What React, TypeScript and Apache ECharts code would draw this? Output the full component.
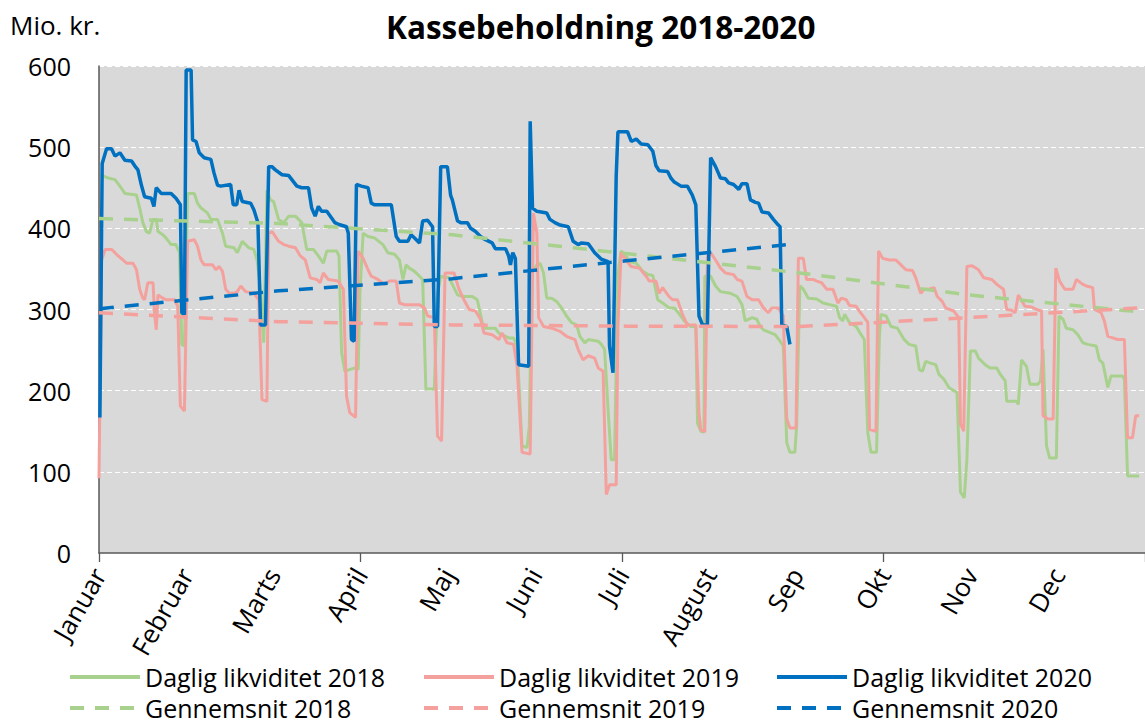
import React, { useEffect, useRef } from "react";
import * as echarts from "echarts";

// x values: day index (30 per month label), y values: Mio. kr.
const months = ["Januar", "Februar", "Marts", "April", "Maj", "Juni", "Juli", "August", "Sep", "Okt", "Nov", "Dec"];
const yTicks = [0, 100, 200, 300, 400, 500, 600];

const daily2018: number[][] = [
  [0.6, 466], [3.2, 462], [5.5, 460], [7.2, 452], [8.9, 443], [12.9, 441], [14.0, 425], [15.1, 407], [16.3, 396], [17.4, 394],
  [18.6, 411], [19.7, 411], [20.3, 396], [22.0, 392], [23.1, 388], [24.8, 380], [26.5, 380], [27.7, 370], [28.5, 257], [29.4, 255],
  [30.5, 443], [32.8, 443], [33.9, 431], [35.1, 425], [37.3, 419], [38.5, 411], [40.8, 411], [42.5, 394], [43.6, 378], [46.5, 376],
  [47.6, 370], [49.3, 384], [51.6, 376], [53.3, 374], [54.4, 361], [55.6, 325], [56.7, 259], [57.8, 447], [59.0, 435], [60.1, 433],
  [61.8, 411], [63.6, 407], [65.3, 415], [67.6, 415], [69.8, 407], [71.5, 374], [73.8, 374], [75.5, 366], [77.2, 357], [78.4, 372],
  [81.8, 372], [82.6, 366], [83.5, 247], [84.6, 224], [88.1, 228], [89.2, 226], [89.8, 320], [90.9, 394], [92.6, 390], [94.9, 388],
  [97.7, 380], [99.4, 370], [101.7, 368], [103.4, 361], [104.6, 337], [105.7, 355], [106.8, 351], [108.6, 347], [110.3, 341], [111.4, 337],
  [112.5, 202], [115.4, 202], [116.5, 320], [117.6, 341], [120.5, 339], [123.4, 318], [125.1, 316], [128.5, 316], [130.2, 312], [131.9, 284],
  [133.0, 277], [136.4, 277], [137.6, 271], [138.7, 269], [141.0, 265], [142.7, 265], [143.9, 255], [145.6, 132], [147.3, 130], [148.1, 156],
  [149.0, 345], [150.7, 355], [151.8, 357], [153.0, 345], [154.1, 314], [155.8, 314], [157.5, 310], [159.2, 302], [160.9, 292], [162.6, 284],
  [164.4, 281], [165.5, 267], [167.2, 259], [168.4, 263], [171.8, 261], [172.9, 257], [174.0, 251], [175.2, 177], [176.3, 115], [177.4, 115],
  [178.6, 345], [179.7, 372], [181.4, 366], [182.6, 359], [184.9, 357], [187.2, 347], [188.9, 343], [190.6, 342], [192.3, 312], [194.0, 308],
  [196.2, 302], [198.0, 302], [199.6, 295], [201.4, 286], [203.6, 279], [205.4, 279], [206.0, 160], [207.1, 150], [208.2, 149], [208.5, 341],
  [210.5, 341], [212.2, 329], [213.9, 322], [217.3, 320], [219.6, 316], [221.3, 306], [222.4, 286], [224.8, 290], [226.4, 288], [227.6, 279],
  [228.7, 275], [232.7, 269], [234.4, 261], [235.5, 255], [236.7, 136], [237.8, 124], [239.5, 124], [240.1, 157], [241.2, 329], [242.4, 325],
  [244.1, 314], [247.0, 313], [249.2, 308], [251.5, 306], [253.8, 304], [254.9, 290], [256.0, 286], [256.6, 294], [258.3, 284], [260.6, 279],
  [262.3, 269], [263.4, 263], [264.6, 148], [265.7, 124], [267.6, 124], [268.6, 267], [269.1, 294], [270.9, 292], [272.6, 279], [274.8, 277],
  [277.1, 263], [278.8, 257], [281.1, 255], [282.3, 226], [283.4, 224], [284.5, 236], [286.2, 234], [288.0, 232], [289.1, 220], [290.8, 214],
  [292.5, 204], [294.2, 200], [295.3, 198], [296.5, 75], [297.8, 68], [298.7, 115], [299.9, 249], [301.6, 249], [302.7, 240], [305.0, 232],
  [306.7, 228], [309.0, 228], [310.2, 220], [311.9, 212], [312.4, 187], [315.8, 187], [316.4, 183], [317.5, 238], [319.2, 230], [320.4, 208],
  [323.2, 208], [324.0, 212], [324.9, 251], [326.1, 132], [327.2, 117], [329.5, 117], [330.4, 292], [331.8, 288], [332.9, 277], [335.2, 275],
  [336.9, 269], [338.6, 259], [340.3, 257], [343.2, 255], [344.3, 238], [345.5, 234], [347.2, 204], [348.3, 218], [352.3, 218], [352.9, 214],
  [354.0, 95], [358.0, 95],
];

const daily2019: number[][] = [
  [0, 92], [0.9, 361], [2.1, 374], [4.3, 374], [5.5, 370], [6.6, 366], [8.3, 361], [9.5, 357], [11.7, 357], [12.9, 349],
  [14.0, 325], [15.1, 314], [15.7, 312], [16.8, 333], [18.6, 333], [19.1, 296], [19.7, 275], [20.3, 318], [22.0, 314], [23.1, 312],
  [26.0, 312], [27.1, 304], [28.0, 181], [29.4, 175], [30.5, 384], [32.8, 386], [33.9, 378], [35.1, 361], [36.2, 355], [39.1, 355],
  [40.2, 349], [41.3, 353], [42.5, 347], [43.6, 325], [44.8, 320], [46.5, 320], [47.6, 322], [48.8, 329], [50.5, 322], [53.3, 320],
  [55.0, 312], [56.1, 189], [57.8, 187], [58.4, 394], [59.6, 396], [61.8, 384], [63.6, 380], [65.3, 378], [67.6, 376], [69.3, 366],
  [71.0, 361], [72.7, 339], [74.9, 337], [76.1, 333], [77.2, 345], [78.9, 337], [82.3, 335], [84.1, 325], [85.2, 193], [86.3, 173],
  [88.3, 167], [89.2, 372], [90.9, 363], [92.6, 349], [93.7, 341], [96.0, 337], [98.3, 331], [100.0, 335], [102.3, 335], [103.4, 308],
  [105.1, 306], [110.3, 306], [112.0, 302], [113.1, 292], [115.4, 290], [116.5, 144], [117.9, 138], [119.1, 345], [122.2, 345], [123.9, 325],
  [125.6, 312], [127.4, 300], [129.6, 298], [131.3, 288], [132.5, 271], [135.3, 269], [137.6, 263], [138.7, 271], [140.4, 259], [142.7, 257],
  [143.9, 230], [145.6, 124], [148.4, 122], [149.5, 419], [150.7, 394], [151.3, 290], [153.0, 279], [155.8, 277], [158.7, 273], [160.9, 267],
  [163.8, 263], [164.9, 251], [166.6, 238], [168.4, 243], [170.6, 240], [171.8, 228], [173.5, 224], [174.6, 72], [175.7, 84], [178.0, 84],
  [178.6, 279], [179.7, 370], [181.4, 361], [183.1, 353], [186.0, 351], [188.3, 341], [189.4, 335], [191.7, 335], [192.8, 320], [194.0, 327],
  [196.2, 316], [197.4, 312], [199.1, 312], [200.8, 294], [202.5, 281], [205.4, 281], [206.5, 173], [207.1, 152], [208.5, 149], [209.4, 366],
  [210.5, 370], [212.2, 361], [213.9, 351], [215.6, 345], [218.4, 343], [219.6, 337], [221.3, 335], [223.0, 316], [224.8, 312], [227.0, 312],
  [228.7, 302], [230.4, 296], [231.6, 302], [233.8, 302], [235.5, 292], [236.7, 165], [237.8, 154], [239.9, 154], [240.7, 363], [242.4, 363],
  [243.5, 337], [245.8, 337], [247.0, 335], [248.7, 333], [250.4, 325], [252.6, 325], [254.3, 308], [255.5, 314], [257.2, 312], [258.3, 305],
  [260.6, 304], [261.7, 298], [263.4, 290], [264.6, 284], [265.2, 152], [267.4, 150], [268.3, 372], [269.7, 363], [272.0, 361], [274.3, 361],
  [276.0, 355], [277.7, 349], [280.0, 348], [281.1, 339], [282.8, 320], [284.0, 325], [285.6, 325], [287.4, 327], [288.5, 316], [290.2, 310],
  [291.4, 302], [294.2, 298], [295.9, 290], [296.5, 159], [297.6, 150], [298.7, 353], [300.5, 354], [302.7, 349], [304.5, 339], [307.3, 337],
  [309.0, 331], [311.3, 325], [312.4, 300], [314.2, 299], [315.3, 296], [316.4, 318], [318.7, 304], [321.0, 303], [322.7, 300], [324.4, 298],
  [324.9, 169], [326.6, 165], [328.4, 165], [329.3, 351], [330.6, 335], [332.4, 325], [335.2, 325], [336.4, 337], [338.6, 331], [339.8, 329],
  [342.0, 327], [342.6, 300], [344.9, 296], [346.0, 286], [347.2, 267], [348.9, 265], [350.6, 263], [352.9, 263], [354.0, 142], [355.7, 142],
  [356.8, 169], [358.0, 169],
];

const daily2020: number[][] = [
  [0.3, 167], [1.1, 480], [2.6, 498], [4.3, 498], [5.5, 489], [7.2, 493], [8.9, 484], [11.2, 483], [12.3, 477], [13.4, 472],
  [14.6, 453], [15.7, 439], [18.0, 437], [18.9, 427], [19.7, 450], [21.4, 443], [24.8, 443], [26.5, 437], [28.0, 429], [28.5, 296],
  [29.4, 294], [30.0, 595], [31.7, 595], [32.2, 509], [33.4, 507], [34.5, 493], [36.2, 487], [38.5, 485], [39.6, 468], [40.8, 453],
  [41.9, 452], [45.3, 454], [46.2, 429], [47.4, 429], [48.2, 447], [49.3, 433], [52.2, 431], [53.3, 423], [54.7, 407], [55.6, 281],
  [57.3, 281], [58.4, 476], [59.5, 476], [60.7, 472], [63.0, 466], [65.3, 465], [68.1, 452], [69.8, 450], [72.1, 450], [73.2, 425],
  [74.4, 415], [75.5, 427], [76.6, 421], [78.4, 421], [81.2, 407], [82.3, 405], [85.2, 402], [85.8, 394], [86.9, 263], [87.8, 261],
  [88.6, 454], [90.3, 452], [92.6, 450], [93.7, 431], [94.9, 429], [100.6, 429], [102.3, 390], [103.4, 384], [106.3, 384], [107.4, 392],
  [108.6, 388], [110.3, 382], [111.4, 409], [113.1, 410], [114.8, 402], [115.4, 279], [116.5, 279], [117.6, 476], [119.9, 476], [121.0, 441],
  [121.6, 435], [123.4, 409], [124.5, 407], [126.8, 407], [127.9, 400], [129.6, 396], [131.3, 390], [133.0, 386], [135.3, 382], [136.4, 375],
  [139.9, 375], [141.0, 366], [141.6, 355], [142.4, 370], [143.3, 363], [144.4, 232], [147.9, 230], [148.4, 532], [149.2, 425], [150.7, 421],
  [154.1, 419], [155.2, 411], [156.9, 407], [158.7, 404], [161.5, 402], [163.2, 384], [164.9, 380], [166.1, 382], [168.4, 381], [170.6, 370],
  [172.9, 362], [175.2, 359], [175.7, 255], [176.9, 222], [178.0, 464], [178.6, 519], [181.9, 519], [183.2, 507], [184.9, 510], [186.6, 504],
  [188.9, 503], [190.6, 495], [191.7, 477], [192.8, 471], [195.7, 470], [196.8, 462], [198.0, 457], [200.3, 452], [202.5, 452], [204.2, 441],
  [205.4, 429], [206.5, 292], [207.7, 281], [209.4, 281], [210.5, 487], [212.2, 476], [213.9, 462], [215.6, 461], [216.7, 456], [218.4, 454],
  [220.2, 448], [221.3, 455], [223.0, 455], [224.2, 435], [225.9, 432], [227.0, 431], [228.2, 420], [230.4, 419], [232.1, 411], [233.8, 404],
  [234.4, 402], [235.0, 281], [236.7, 279], [237.8, 257],
];

const avg2018: number[][] = [[0, 412], [61.8, 406], [121.6, 392], [181.4, 369], [241.2, 345], [299.3, 318], [358, 297]];
const avg2019: number[][] = [[0, 296], [61.8, 285], [121.6, 281], [181.4, 279.5], [241.2, 279], [299.3, 290], [358, 302]];
const avg2020: number[][] = [[0.3, 301], [61.8, 323], [121.6, 338], [181.4, 360], [238.5, 380.5]];

const seriesNames = [
  "Daglig likviditet 2018",
  "Daglig likviditet 2019",
  "Daglig likviditet 2020",
  "Gennemsnit 2018",
  "Gennemsnit 2019",
  "Gennemsnit 2020",
];

const GREEN = "#a9d18e";
const PINK = "#f4a19d";
const BLUE = "#0070c0";
const FONT = "'Open Sans', sans-serif";

export default function App() {
  const ref = useRef<HTMLDivElement>(null);

  useEffect(() => {
    if (!ref.current) return;
    const chart = echarts.init(ref.current, null, { renderer: "svg" });

    const dash = [14, 11];
    const mkLine = (name: string, data: number[][], color: string, width: number, dashed: boolean) => ({
      name,
      type: "line",
      data,
      symbol: "none",
      showSymbol: false,
      xAxisIndex: 0,
      yAxisIndex: 0,
      itemStyle: { color },
      lineStyle: { color, width, type: dashed ? dash : "solid" },
      emphasis: { disabled: true },
    });

    const legendBase = {
      padding: 0,
      itemGap: 0,
      itemWidth: 70,
      itemHeight: 14,
      selectedMode: false,
      itemStyle: { opacity: 0 },
      lineStyle: { width: 4, type: "inherit" },
      textStyle: { fontFamily: FONT, fontSize: 25, lineHeight: 26, color: "#000" },
    };
    const legendPos = [
      [68, 664],
      [422, 664],
      [775, 664],
      [68, 695],
      [422, 695],
      [775, 695],
    ];

    chart.setOption({
      animation: false,
      title: {
        text: "Kassebeholdning 2018-2020",
        left: 381,
        top: 5,
        textStyle: { fontFamily: FONT, fontSize: 31.5, fontWeight: "bold", color: "#000" },
      },
      graphic: [
        {
          type: "text",
          left: 10,
          top: 12,
          style: { text: "Mio. kr.", fontFamily: FONT, fontSize: 26, fill: "#000" },
        },
      ],
      legend: seriesNames.map((n, i) => ({
        ...legendBase,
        data: [n],
        left: legendPos[i][0],
        top: legendPos[i][1],
      })),
      grid: {
        left: 99,
        right: -8,
        top: 66,
        bottom: 172,
        show: true,
        backgroundColor: "#d9d9d9",
        borderWidth: 0,
      },
      xAxis: [
        {
          type: "value",
          min: 0,
          max: 360,
          interval: 30,
          position: "bottom",
          axisLine: { show: false },
          axisTick: { show: false },
          splitLine: { show: false },
          axisLabel: {
            rotate: 60,
            margin: 17,
            fontFamily: FONT,
            fontSize: 26,
            color: "#000",
            showMaxLabel: false,
            formatter: (v: number) => (v % 30 === 0 && v / 30 < 12 ? months[v / 30] : ""),
          },
        },
        {
          type: "value",
          min: 0,
          max: 360,
          interval: 90,
          position: "bottom",
          axisLine: { show: true, lineStyle: { color: "#595959", width: 1.5 } },
          axisTick: { show: true, length: 9, lineStyle: { color: "#595959", width: 1.3 } },
          axisLabel: { show: false },
          splitLine: { show: false },
        },
      ],
      yAxis: {
        type: "value",
        min: yTicks[0],
        max: yTicks[yTicks.length - 1],
        interval: 100,
        axisLine: { show: true, lineStyle: { color: "#595959", width: 1.5 } },
        axisTick: { show: false },
        axisLabel: { fontFamily: FONT, fontSize: 25, color: "#000", margin: 28 },
        splitLine: { show: true, lineStyle: { color: "#ffffff", width: 1.2, type: [5, 3] } },
      },
      series: [
        mkLine(seriesNames[0], daily2018, GREEN, 3, false),
        mkLine(seriesNames[1], daily2019, PINK, 3, false),
        mkLine(seriesNames[2], daily2020, BLUE, 3.5, false),
        mkLine(seriesNames[3], avg2018, GREEN, 3.5, true),
        mkLine(seriesNames[4], avg2019, PINK, 3.5, true),
        mkLine(seriesNames[5], avg2020, BLUE, 3.5, true),
      ],
    });

    return () => chart.dispose();
  }, []);

  return (
    <div
      ref={ref}
      style={{ position: "absolute", left: 0, top: 0, width: 1145, height: 725, background: "#fff" }}
    />
  );
}
